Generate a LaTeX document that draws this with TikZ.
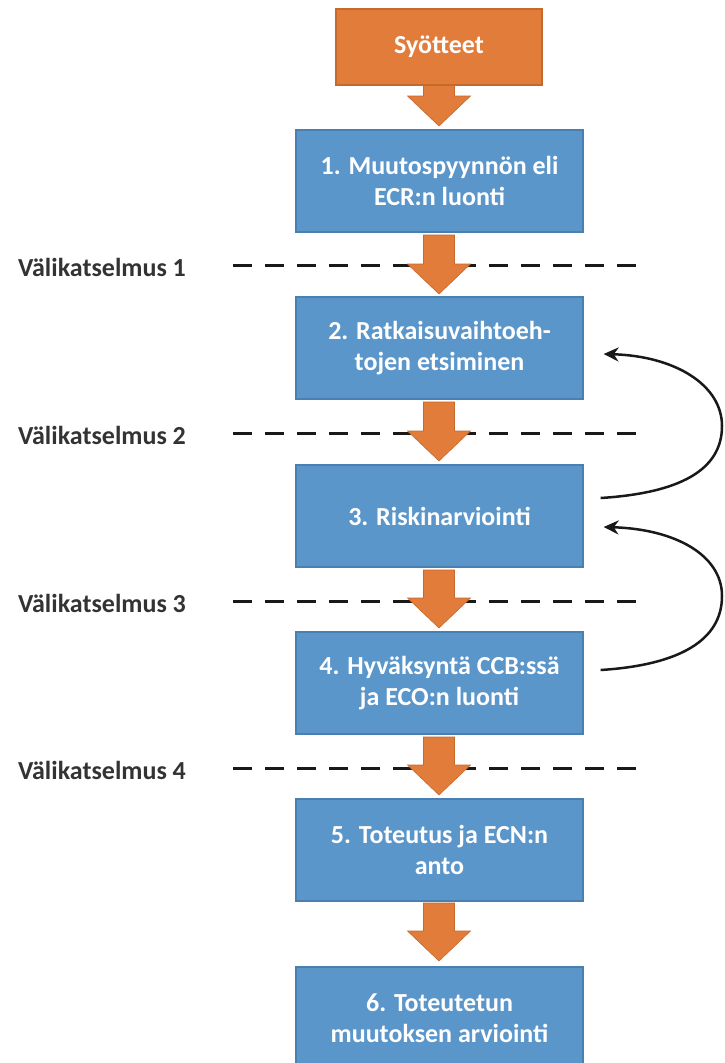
\documentclass[tikz,border=0pt]{standalone}
\usepackage{fontspec}
\setmainfont{Carlito}
\usetikzlibrary{arrows.meta}

\definecolor{stepblue}{HTML}{5B96CB}
\definecolor{stepblueedge}{HTML}{4A7FB2}
\definecolor{inorange}{HTML}{E27C3B}
\definecolor{inorangeedge}{HTML}{C6692D}
\definecolor{reviewtext}{HTML}{333333}

\tikzset{
  stepbox/.style={draw=stepblueedge, line width=1.2pt, fill=stepblue,
    minimum width=287pt, minimum height=102pt, inner sep=0pt, align=center,
    text=white, font=\bfseries\fontsize{26}{31.5}\selectfont},
  inbox/.style={draw=inorangeedge, line width=1.2pt, fill=inorange,
    minimum width=206pt, minimum height=76pt, inner sep=0pt,
    text=white, font=\bfseries\fontsize{26}{31.5}\selectfont},
  review/.style={anchor=west, inner sep=0pt, text=reviewtext,
    font=\bfseries\fontsize{26}{31.5}\selectfont},
  gate/.style={line width=3pt, dash pattern=on 19pt off 13pt, black!90},
  flowarrow/.style={fill=inorange, draw=inorangeedge, line width=0.6pt, line join=miter},
  loopback/.style={-{Stealth[length=15pt,width=14pt]}, line width=2.5pt, black!90}
}

% block arrow pointing down: #1 = top of shaft, #2 = tip
\newcommand\flowdown[2]{%
  \filldraw[flowarrow] (423.5,#1) -- (454.5,#1) -- (454.5,{#2-30}) -- (470.5,{#2-30})
    -- (439,#2) -- (407.5,{#2-30}) -- (423.5,{#2-30}) -- cycle;}

\begin{document}
\begin{tikzpicture}[x=1pt, y=-1pt]
  \useasboundingbox (0,0) rectangle (725,1063);
  \clip (0,0) rectangle (725,1063);

  % review gates
  \node[review] (r1) at (18,267) {Välikatselmus 1};
  \node[review] (r2) at (18,435) {Välikatselmus 2};
  \node[review] (r3) at (18,603) {Välikatselmus 3};
  \node[review] (r4) at (18,770) {Välikatselmus 4};
  \coordinate (g1a) at (233,265); \coordinate (g1b) at (645,265);
  \coordinate (g2a) at (233,433); \coordinate (g2b) at (645,433);
  \coordinate (g3a) at (233,601); \coordinate (g3b) at (645,601);
  \coordinate (g4a) at (233,768); \coordinate (g4b) at (645,768);
  \draw[gate] (g1a) -- (g1b);
  \draw[gate] (g2a) -- (g2b);
  \draw[gate] (g3a) -- (g3b);
  \draw[gate] (g4a) -- (g4b);

  % flow arrows
  \flowdown{84}{126}
  \flowdown{235}{294}
  \flowdown{402}{461}
  \flowdown{570}{628}
  \flowdown{737}{795}
  \flowdown{903}{961}

  % process steps
  \node[inbox] (in) at (439,47) {Syötteet};
  \node[stepbox] (s1) at (439.5,181) {1. Muutospyynnön eli\\ECR:n luonti};
  \node[stepbox] (s2) at (439.5,348) {2. Ratkaisuvaihtoeh-\\tojen etsiminen};
  \node[stepbox] (s3) at (439.5,516) {3. Riskinarviointi};
  \node[stepbox] (s4) at (439.5,683) {4. Hyväksyntä CCB:ssä\\ja ECO:n luonti};
  \node[stepbox] (s5) at (439.5,850) {5. Toteutus ja ECN:n\\anto};
  \node[stepbox] (s6) at (439.5,1018) {6. Toteutetun\\muutoksen arviointi};

  % feedback loops
  \draw[loopback] ([shift={(17,-18)}]s3.east)
    .. controls (680,493) and (722,470) .. (722,426)
    .. controls (722,385) and (675,356) .. ([shift={(20,6)}]s2.east);
  \draw[loopback] ([shift={(17,-13)}]s4.east)
    .. controls (680,665) and (722,640) .. (722,596)
    .. controls (722,555) and (675,529) .. ([shift={(20,11)}]s3.east);
\end{tikzpicture}
\end{document}
